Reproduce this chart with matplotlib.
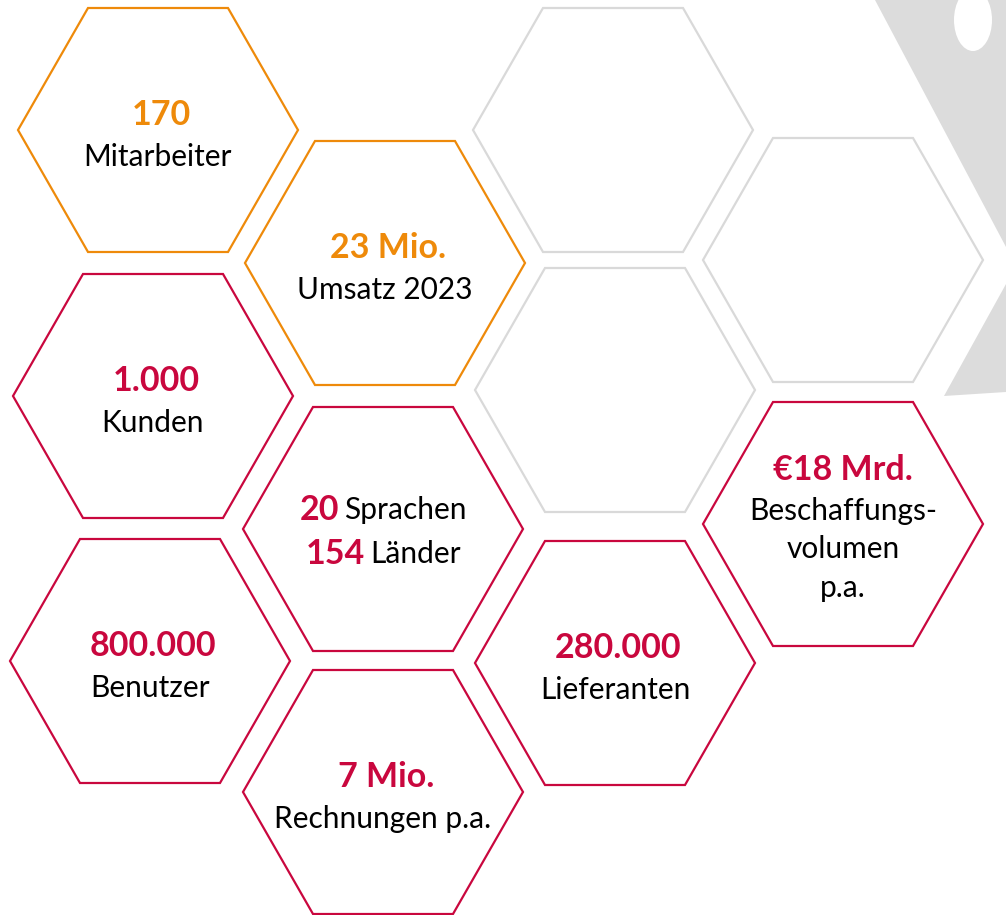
import matplotlib
matplotlib.use("Agg")
import matplotlib.pyplot as plt
from matplotlib.patches import Polygon, Ellipse
import numpy as np

plt.rcParams['font.family'] = ['Lato', 'DejaVu Sans']

# data
numbers = ["170", "23 Mio.", "1.000", None, "800.000", "7 Mio.", "280.000", "€18 Mrd."]
labels = ["Mitarbeiter", "Umsatz 2023", "Kunden", None, "Benutzer",
          "Rechnungen p.a.", "Lieferanten", "Beschaffungs-\nvolumen\np.a."]
mixed_nums = ["20", "154"]
mixed_words = ["Sprachen", "Länder"]

ORANGE = "#EE8A0A"
RED = "#C9073E"
GREY = "#DCDCDC"
colors = [ORANGE, ORANGE, RED, RED, RED, RED, RED, RED]

# layout (pixel coords)
centers = [(158, 130), (385, 263), (153, 396), (383, 529),
           (150, 661), (383, 792), (615, 663), (843, 524)]
empty_centers = [(613, 130), (615, 390), (843, 260)]
RX, RY = 140, 122

W, H = 1006, 915
fig = plt.figure(figsize=(W / 100, H / 100), dpi=100)
ax = fig.add_axes([0, 0, 1, 1])
ax.set_xlim(0, W)
ax.set_ylim(H, 0)
ax.axis('off')

# grey backdrop at top right
ax.add_patch(Polygon([(875, 0), (1006, 0), (1006, 247)], closed=True, fc=GREY, ec='none'))
ax.add_patch(Polygon([(1006, 284), (944, 396), (1006, 392)], closed=True, fc=GREY, ec='none'))
ax.add_patch(Ellipse((973, 20), 38, 62, fc='white', ec='none'))


def hexagon(cx, cy, color):
    pts = [(cx - RX, cy), (cx - RX / 2, cy - RY), (cx + RX / 2, cy - RY),
           (cx + RX, cy), (cx + RX / 2, cy + RY), (cx - RX / 2, cy + RY)]
    ax.add_patch(Polygon(pts, closed=True, fill=False, ec=color, lw=1.6, joinstyle='miter'))


for (cx, cy) in empty_centers:
    hexagon(cx, cy, "#D9D9D9")

NUM_SIZE = 24.5
LBL_SIZE = 21.5

for i, (cx, cy) in enumerate(centers):
    hexagon(cx, cy, colors[i])
    if numbers[i] is None:
        continue
    if i == 7:
        ax.text(cx, cy - 54, numbers[i], color=colors[i], fontsize=NUM_SIZE,
                fontweight='bold', ha='center', va='center')
        for j, line in enumerate(labels[i].split("\n")):
            ax.text(cx, cy - 13 + j * 38.5, line, color='black', fontsize=LBL_SIZE,
                    ha='center', va='center')
    else:
        ax.text(cx + 3, cy - 15, numbers[i], color=colors[i], fontsize=NUM_SIZE,
                fontweight='bold', ha='center', va='center')
        ax.text(cx, cy + 27, labels[i], color='black', fontsize=LBL_SIZE,
                ha='center', va='center')

# mixed lines in the middle hexagon
fig.canvas.draw()
renderer = fig.canvas.get_renderer()
cx, cy = centers[3]
gap = 5
for k, (n, w) in enumerate(zip(mixed_nums, mixed_words)):
    y = cy - 19 + k * 44
    tn = ax.text(0, y, n, color=RED, fontsize=NUM_SIZE, fontweight='bold', ha='left', va='center')
    tw = ax.text(0, y, w, color='black', fontsize=LBL_SIZE, ha='left', va='center')
    wn = tn.get_window_extent(renderer).width
    ww = tw.get_window_extent(renderer).width
    x0 = cx - (wn + gap + ww) / 2
    tn.set_x(x0)
    tw.set_x(x0 + wn + gap)

fig.savefig("out.png", dpi=100, facecolor='white')
